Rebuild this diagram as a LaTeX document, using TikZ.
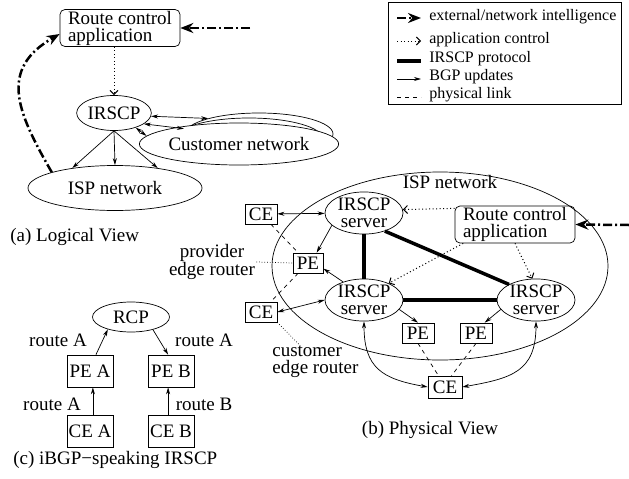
\documentclass[tikz,border=0pt]{standalone}
\usepackage{fontspec}
\setmainfont{Liberation Serif}
\usetikzlibrary{arrows.meta,shapes.geometric,positioning}

\begin{document}
\begin{tikzpicture}[x=1pt,y=-1pt,line width=0.7pt,
	every node/.style={font=\fontsize{19}{17}\selectfont},
	net/.style={ellipse,draw,inner sep=0pt,align=center},
	srv/.style={net,minimum width=78pt,minimum height=41pt},
	rtr/.style={draw,inner sep=0pt,minimum width=32pt,minimum height=20pt},
	ctl/.style={draw,rounded corners=5pt,align=left,inner sep=0pt,minimum width=120pt,minimum height=37pt},
	lgd/.style={anchor=west,inner sep=1pt,font=\fontsize{16}{17}\selectfont},
	bgp/.style={-{Stealth[length=7pt,width=4pt]}},
	bgpx/.style={{Stealth[length=7pt,width=4pt]}-{Stealth[length=7pt,width=4pt]}},
	appctl/.style={line width=1pt,dash pattern=on 1pt off 2.5pt,-{Straight Barb[length=4pt,width=8pt]}},
	extint/.style={line width=2.5pt,dash pattern=on 9pt off 3pt on 2pt off 3pt,-{Stealth[length=13pt,width=10pt]}},
	proto/.style={line width=3.5pt},
	phys/.style={dash pattern=on 4pt off 4pt}]
	\useasboundingbox (0,0) rectangle (629,479);
	% (a)
	\node[ctl] (rcaA) at (120,28) {Route control\\application};
	\node[net,minimum width=74pt,minimum height=35pt] (irscp) at (114,113) {IRSCP};
	\node[net,minimum width=174pt,minimum height=45pt] (ispA) at (115,188) {ISP network};
	\node[net,fill=white,minimum width=148pt,minimum height=42pt] (cust3) at (259,134) {};
	\node[net,fill=white,minimum width=148pt,minimum height=42pt] (cust2) at (249,139) {};
	\node[net,fill=white,minimum width=148pt,minimum height=42pt] (cust1) at (239,144) {Customer network};
	\coordinate (extA) at (250,28);
	\draw[extint] (extA) -- (rcaA.east);
	\draw[extint] (ispA.166) to[out=120,in=210,looseness=1.3] ([yshift=-6pt]rcaA.west);
	\draw[appctl] (rcaA.south -| irscp) -- (irscp.north);
	\draw[bgp] (irscp.south) -- (ispA.155);
	\draw[bgp] (irscp.south) -- (ispA.north);
	\draw[bgp] (irscp.south) -- (ispA.25);
	\draw[bgpx] (irscp.-5) -- (cust3.163);
	\draw[bgpx] (irscp.-20) -- (cust2.171);
	\draw[bgpx] (irscp.-34) -- (cust1.175);
	\node[anchor=west,inner sep=0pt] (capA) at (10,237) {(a) Logical View};
	% legend
	\node[draw,inner sep=0pt,minimum width=233pt,minimum height=102pt] (legend) at (504.5,53) {};
	\coordinate (l1a) at (397,18); \coordinate (l1b) at (421,18);
	\coordinate (l2a) at (397,41); \coordinate (l2b) at (421,41);
	\coordinate (l3a) at (397,61); \coordinate (l3b) at (421,61);
	\coordinate (l4a) at (397,79); \coordinate (l4b) at (421,79);
	\coordinate (l5a) at (397,97); \coordinate (l5b) at (421,97);
	\draw[extint] (l1a) -- (l1b);
	\draw[appctl] (l2a) -- (l2b);
	\draw[proto] (l3a) -- (l3b);
	\draw[bgp] (l4a) -- (l4b);
	\draw[phys] (l5a) -- (l5b);
	\node[lgd] (l1) at (428,17) {external/network intelligence};
	\node[lgd] (l2) at (428,40) {application control};
	\node[lgd] (l3) at (428,59) {IRSCP protocol};
	\node[lgd] (l4) at (428,77) {BGP updates};
	\node[lgd] (l5) at (428,95) {physical link};
	% (b)
	\node[net,minimum width=336pt,minimum height=188pt] (ispB) at (440,266) {};
	\node[inner sep=0pt] (ispBtxt) at (450,182) {ISP network};
	\node[srv] (srvTL) at (364,213) {IRSCP\\server};
	\node[srv] (srvBL) at (364,300) {IRSCP\\server};
	\node[srv] (srvR) at (536,300) {IRSCP\\server};
	\node[ctl] (rcaB) at (515,224.5) {Route control\\application};
	\node[rtr] (ceUp) at (261,214) {CE};
	\node[rtr,minimum width=30pt] (peLeft) at (308,263) {PE};
	\node[rtr] (ceLo) at (261,312) {CE};
	\node[rtr] (peM) at (418,333) {PE};
	\node[rtr] (peR) at (476,333) {PE};
	\node[rtr,minimum width=34pt,minimum height=22pt] (ceBot) at (445,387) {CE};
	\node[align=center,inner sep=1pt] (provTxt) at (212,262) {provider\\edge router};
	\node[align=left,anchor=west,inner sep=1pt] (custTxt) at (271,362) {customer\\edge router};
	\node[inner sep=0pt] (capB) at (430,430) {(b) Physical View};
	\coordinate (extB) at (629,225);
	\draw[extint] (extB) -- (rcaB.east);
	\draw[appctl] (rcaB.165) -- (srvTL.5);
	\draw[appctl] (rcaB.200) -- (srvBL.34);
	\draw[appctl] (rcaB.south) -- (srvR.100);
	\draw[proto] (srvTL) -- (srvBL);
	\draw[proto] (srvTL.-41) -- (srvR.150);
	\draw[proto] (srvBL) -- (srvR);
	\draw[bgpx] (ceUp) -- (srvTL);
	\draw[bgpx] (ceLo.east) -- (srvBL.west);
	\draw[bgp] (srvTL.201) -- (peLeft.50);
	\draw[bgp] (srvBL.139) -- (peLeft.-20);
	\draw[bgp] (srvBL.-15) -- (peM.north);
	\draw[bgp] (srvR.195) -- (peR.50);
	\draw[phys] (ceUp) -- (peLeft);
	\draw[phys] (peLeft) -- (ceLo);
	\draw[phys] (peM.south) -- (ceBot.120);
	\draw[phys] (peR.south) -- (ceBot.60);
	\draw[bgpx] (srvBL.south) to[out=-90,in=170,looseness=1.3] (ceBot.west);
	\draw[bgpx] (srvR.south) to[out=-90,in=10,looseness=1.3] (ceBot.east);
	\draw[dotted] (provTxt.east) -- (peLeft.west);
	\draw[dotted] (ceLo.south east) -- ([xshift=-16pt]custTxt.north);
	% (c)
	\node[net,minimum width=77pt,minimum height=30pt] (rcp) at (131,317) {RCP};
	\node[rtr,minimum width=46pt,minimum height=32pt] (peA) at (90,371) {PE A};
	\node[rtr,minimum width=46pt,minimum height=32pt] (peB) at (171,371) {PE B};
	\node[rtr,minimum width=46pt,minimum height=32pt] (ceA) at (90,431) {CE A};
	\node[rtr,minimum width=46pt,minimum height=32pt] (ceB) at (171,431) {CE B};
	\draw[bgp] (peA.70) -- (rcp.208);
	\draw[bgp] (rcp.-30) -- (peB.100);
	\draw[bgp] (ceA.80) -- (peA.280);
	\draw[bgp] (ceB.100) -- (peB.260);
	\node[inner sep=0pt] (rtA1) at (58,340) {route A};
	\node[inner sep=0pt] (rtA2) at (204,340) {route A};
	\node[inner sep=0pt] (rtA3) at (52,404) {route A};
	\node[inner sep=0pt] (rtB) at (204,404) {route B};
	\node[anchor=west,inner sep=0pt] (capC) at (13,460) {(c) iBGP−speaking IRSCP};
\end{tikzpicture}
\end{document}
